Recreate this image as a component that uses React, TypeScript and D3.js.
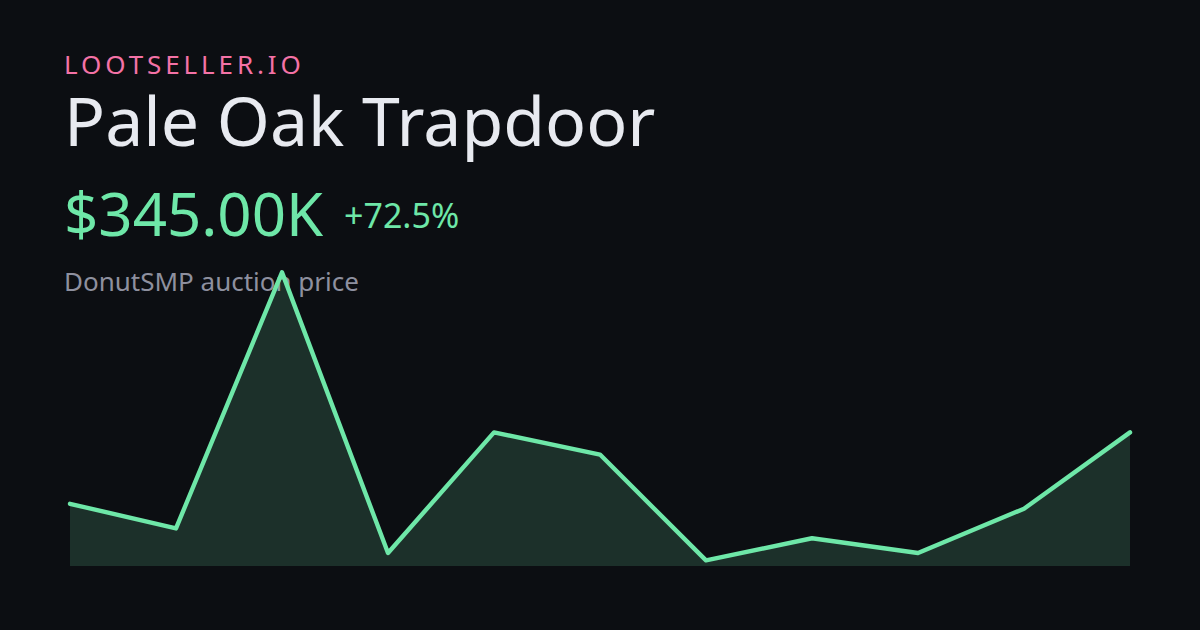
import React from "react";
import * as d3 from "d3";

const index = [0,1,2,3,4,5,6,7,8,9,10];
const prices = [200,150,670,100,345,300,85,130,100,190,345];
const FONT = '"Noto Sans", sans-serif';

export default function App() {
  const x = d3.scaleLinear().domain([0,10]).range([70,1130]);
  const y = d3.scaleLinear().domain([85,670]).range([560.4,272.4]);
  const base = 566;
  const line = d3.line<number>().x((_, i) => x(index[i])).y(d => y(d));
  const area = d3.area<number>().x((_, i) => x(index[i])).y0(base).y1(d => y(d));
  return (
    <svg width={1200} height={630} style={{position:"fixed",left:0,top:0,background:"#0c0e12"}}>
      <rect width={1200} height={630} fill="#0c0e12"/>
      <text x={64} y={74} fontFamily={FONT} fontSize={26} letterSpacing={3.9} fill="#f472a6">LOOTSELLER.IO</text>
      <text x={64} y={146} fontFamily={FONT} fontSize={68} fill="#e8eaf0">Pale Oak Trapdoor</text>
      <text x={64} y={236} fontFamily={FONT} fontSize={60} fill="#6ee7a8">$345.00K</text>
      <text x={344} y={228} fontFamily={FONT} fontSize={34} fill="#6ee7a8">+72.5%</text>
      <text x={64} y={291} fontFamily={FONT} fontSize={26} fill="#8e909f">DonutSMP auction price</text>
      <path d={area(prices)!} fill="#6ee7a8" fillOpacity={0.16}/>
      <path d={line(prices)!} fill="none" stroke="#6ee7a8" strokeWidth={4.4} strokeLinecap="round" strokeLinejoin="round"/>
    </svg>
  );
}
